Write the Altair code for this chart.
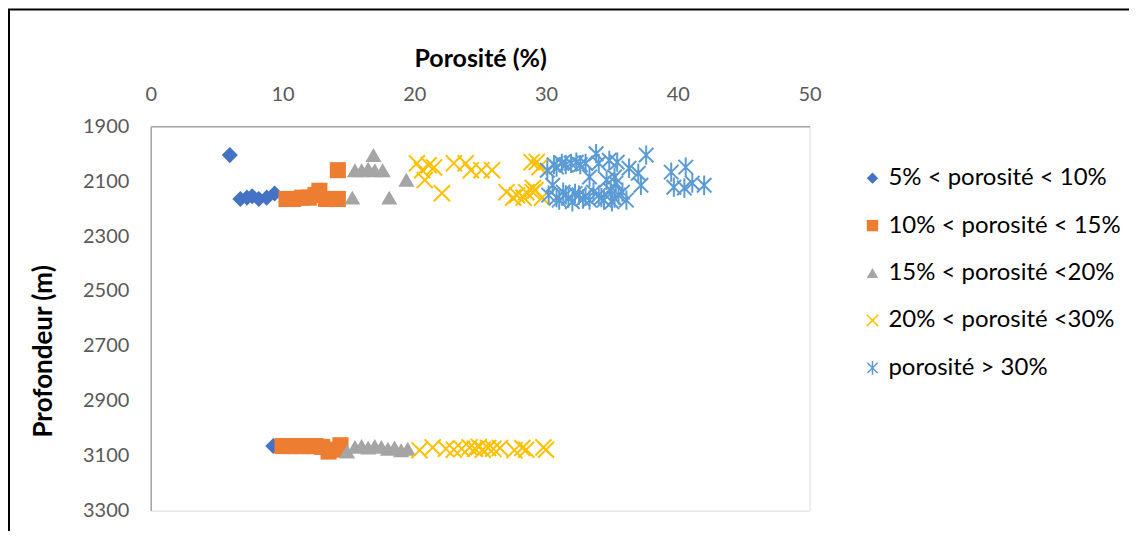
import altair as alt
import pandas as pd

series = ["5% < porosité < 10%", "10% < porosité < 15%", "15% < porosité <20%",
          "20% < porosité <30%", "porosité > 30%"]
colors = ["#4472C4", "#ED7D31", "#A5A5A5", "#FFC000", "#5B9BD5"]

s1_x = [6.0, 6.8, 7.3, 7.7, 8.2, 8.8, 9.4, 9.3]
s1_y = [2005, 2165, 2160, 2155, 2165, 2160, 2145, 3065]

s2_x = [14.2, 10.3, 10.8, 11.5, 12.0, 12.5, 12.8, 13.3, 13.8, 14.2,
        10.0, 10.5, 11.0, 11.5, 12.0, 12.5, 13.0, 13.5, 14.0, 14.4]
s2_y = [2060, 2165, 2165, 2160, 2160, 2150, 2135, 2165, 2165, 2165,
        3065, 3065, 3065, 3065, 3065, 3065, 3068, 3085, 3078, 3062]

s3_x = [15.5, 16.0, 16.5, 16.9, 17.0, 17.6, 19.4, 15.3, 18.1,
        14.9, 15.5, 16.0, 16.5, 17.0, 17.5, 18.0, 18.5, 19.0, 19.5]
s3_y = [2060, 2060, 2055, 2005, 2060, 2060, 2095, 2160, 2160,
        3085, 3068, 3065, 3070, 3065, 3068, 3075, 3070, 3080, 3075]

s4_x = [20.2, 20.6, 21.1, 20.8, 21.5, 22.1, 23.0, 23.9, 24.3, 25.1, 25.9, 27.0,
        27.5, 27.8, 28.3, 28.5, 28.9, 29.0, 29.2, 29.5, 29.7, 29.3, 29.0,
        20.4, 21.4, 22.4, 23.0, 23.6, 24.2, 24.6, 24.9, 25.2, 25.6, 26.0, 26.5,
        27.6, 28.2, 28.5, 29.8, 30.0]
s4_y = [2035, 2060, 2042, 2096, 2050, 2144, 2035, 2035, 2060, 2060, 2060, 2140,
        2160, 2151, 2160, 2140, 2031, 2125, 2133, 2049, 2160, 2030, 2140,
        3080, 3070, 3075, 3078, 3075, 3070, 3075, 3068, 3078, 3072, 3075, 3072,
        3080, 3072, 3078, 3070, 3078]

s5_x = [30.1, 30.6, 30.8, 31.2, 31.5, 31.9, 32.3, 32.6, 33.0, 33.8, 34.0, 34.8,
        35.4, 36.3, 37.6, 37.0, 37.2, 39.5, 40.6, 39.7, 40.5, 41.1, 42.0,
        30.5, 30.2, 31.0, 31.3, 31.7, 32.0, 32.5, 32.8, 33.3, 33.6, 34.0, 34.4,
        34.9, 35.2, 35.5, 36.1, 35.3, 34.6, 33.3, 35.2, 30.8, 31.5, 32.2, 33.0,
        34.2, 35.0, 35.8]
s5_y = [2060, 2040, 2049, 2035, 2040, 2035, 2031, 2040, 2035, 2000, 2035, 2024,
        2031, 2053, 2005, 2071, 2115, 2067, 2049, 2122, 2125, 2107, 2115,
        2115, 2151, 2169, 2140, 2162, 2175, 2151, 2165, 2169, 2140, 2151, 2169,
        2133, 2162, 2151, 2169, 2107, 2096, 2085, 2085, 2160, 2150, 2145, 2155,
        2160, 2175, 2140]

y_ticks = [1900, 2100, 2300, 2500, 2700, 2900, 3100, 3300]
x_ticks = [0, 10, 20, 30, 40, 50]

rows = []
for name, xs, ys in zip(series, [s1_x, s2_x, s3_x, s4_x, s5_x], [s1_y, s2_y, s3_y, s4_y, s5_y]):
    for xv, yv in zip(xs, ys):
        rows.append({"serie": name, "porosite": xv, "profondeur": yv})
df = pd.DataFrame(rows)

X_PATH = "M-1,-1L1,1M-1,1L1,-1"
STAR_PATH = "M-0.9,-0.9L0.9,0.9M-0.9,0.9L0.9,-0.9M0,-1.2L0,1.2"
shapes = ["diamond", "square", "triangle-up", X_PATH, STAR_PATH]
fills = colors[:3] + ["transparent", "transparent"]
strokes = ["transparent"] * 3 + colors[3:]

FONT = "Lato"

leg = alt.Legend(title=None, orient="right", offset=11, padding=40,
                 labelFont=FONT, labelFontSize=24, labelColor="#000000",
                 symbolSize=130, symbolStrokeWidth=1.5, symbolOpacity=1,
                 rowPadding=23.5, labelOffset=4, labelLimit=400)

points = alt.Chart(df).mark_point(filled=True, strokeWidth=2, size=260, opacity=1).encode(
    x=alt.X("porosite:Q",
            scale=alt.Scale(domain=[0, 50], nice=False, zero=False),
            axis=alt.Axis(orient="top", values=x_ticks, title="Porosité (%)",
                          grid=False, ticks=False, tickSize=0, labelFlush=False,
                          domainColor="#A6A6A6", domainWidth=1.5,
                          labelColor="#595959", labelFontSize=20, labelFont=FONT,
                          labelPadding=22,
                          titleFont=FONT, titleFontSize=25, titleFontWeight="bold",
                          titleColor="#000000", titleX=330, titleY=-68,
                          titleBaseline="middle", titleAlign="center")),
    y=alt.Y("profondeur:Q",
            scale=alt.Scale(domain=[1900, 3300], reverse=True, nice=False, zero=False),
            axis=alt.Axis(orient="left", values=y_ticks, title="Profondeur (m)",
                          format="d", labelFlush=False,
                          grid=False, ticks=False, tickSize=0,
                          domainColor="#A6A6A6", domainWidth=1.5,
                          labelColor="#595959", labelFontSize=20, labelFont=FONT,
                          labelPadding=22,
                          titleFont=FONT, titleFontSize=26, titleFontWeight="bold",
                          titleColor="#000000", titleX=-107, titleY=225,
                          titleBaseline="middle", titleAlign="center", titleAngle=-90)),
    shape=alt.Shape("serie:N", scale=alt.Scale(domain=series, range=shapes), legend=leg),
    fill=alt.Fill("serie:N", scale=alt.Scale(domain=series, range=fills), legend=leg),
    stroke=alt.Stroke("serie:N", scale=alt.Scale(domain=series, range=strokes), legend=leg),
)

frame = alt.Chart(pd.DataFrame({"a": [0]})).mark_rect(
    fill="transparent", stroke="#000000", strokeWidth=2
).encode(
    x=alt.value(-142), x2=alt.value(981), y=alt.value(-117), y2=alt.value(430)
)

chart = alt.layer(frame, points).properties(
    width=660, height=385,
    padding={"left": 143, "top": 118, "right": 320, "bottom": 20},
    autosize=alt.AutoSizeParams(type="none"),
).configure_view(stroke=None).configure(background="#FFFFFF")

chart.save("out.html", embed_options={"renderer": "svg", "actions": False})
